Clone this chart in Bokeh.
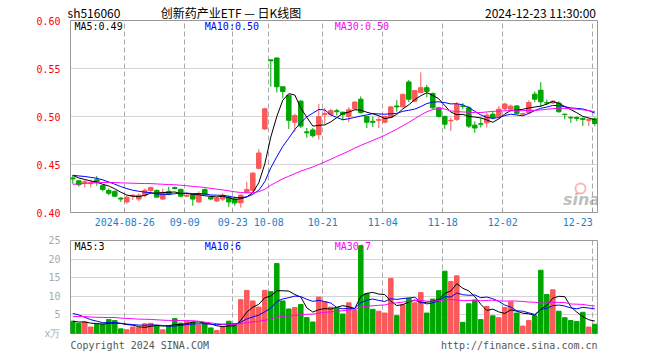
from bokeh.plotting import figure
from bokeh.models import (FixedTicker, Range1d, Label, ColumnDataSource, NumeralTickFormatter,
                          LinearAxis)
from bokeh.layouts import column
from bokeh.embed import file_html
from bokeh.resources import INLINE

# ---------------- data ----------------
# closes / volumes before the visible window (only used to warm up the moving averages)
hist_close = [0.418, 0.416, 0.417, 0.419, 0.420, 0.418, 0.421, 0.423, 0.422, 0.424,
              0.425, 0.427, 0.426, 0.428, 0.430, 0.429, 0.431, 0.433, 0.432, 0.434,
              0.436, 0.438, 0.440, 0.441, 0.440, 0.442, 0.440, 0.439, 0.437]
hist_vol = [3.5, 4.0, 5.2, 4.8, 3.6, 4.1, 3.9, 5.5, 4.4, 3.8,
            4.6, 3.7, 4.3, 5.0, 3.9, 4.2, 3.6, 4.4, 4.0, 3.5,
            6.8, 9.5, 8.2, 6.5, 6.5, 3.8, 3.0, 3.4, 3.0]

open_ = [0.436, 0.433, 0.431, 0.430, 0.434, 0.428, 0.423, 0.422, 0.415, 0.411,
         0.417, 0.414, 0.418, 0.423, 0.423, 0.414, 0.422, 0.426, 0.424, 0.417,
         0.418, 0.411, 0.424, 0.416, 0.412, 0.414, 0.416, 0.414, 0.410, 0.421,
         0.423, 0.446, 0.487, 0.559, 0.561, 0.531, 0.522, 0.494, 0.516, 0.484,
         0.486, 0.481, 0.502, 0.502, 0.506, 0.5045, 0.500, 0.508, 0.518, 0.500,
         0.495, 0.496, 0.494, 0.499, 0.511, 0.510, 0.536, 0.516, 0.525, 0.530,
         0.524, 0.509, 0.500, 0.4955, 0.497, 0.511, 0.509, 0.491, 0.4925, 0.4935,
         0.5024, 0.500, 0.508, 0.5076, 0.511, 0.5024, 0.5038, 0.5233, 0.5274, 0.5145,
         0.5142, 0.514, 0.5024, 0.499, 0.499, 0.498, 0.496, 0.4976]
high = [0.439, 0.434, 0.434, 0.434, 0.438, 0.429, 0.425, 0.423, 0.416, 0.418,
        0.419, 0.420, 0.425, 0.427, 0.424, 0.425, 0.427, 0.427, 0.425, 0.421,
        0.420, 0.422, 0.425, 0.417, 0.416, 0.420, 0.417, 0.417, 0.419, 0.432,
        0.442, 0.466, 0.509, 0.559, 0.561, 0.531, 0.523, 0.503, 0.517, 0.488,
        0.488, 0.513, 0.509, 0.508, 0.508, 0.505, 0.510, 0.516, 0.521, 0.500,
        0.500, 0.500, 0.501, 0.511, 0.517, 0.524, 0.538, 0.527, 0.546, 0.533,
        0.525, 0.510, 0.501, 0.499, 0.515, 0.514, 0.511, 0.495, 0.4985, 0.504,
        0.5055, 0.511, 0.5142, 0.5125, 0.512, 0.504, 0.517, 0.526, 0.5358, 0.5177,
        0.517, 0.516, 0.5028, 0.5003, 0.500, 0.499, 0.498, 0.499]
low = [0.430, 0.427, 0.426, 0.426, 0.428, 0.422, 0.418, 0.416, 0.411, 0.409,
       0.413, 0.412, 0.416, 0.420, 0.416, 0.413, 0.418, 0.424, 0.416, 0.416,
       0.407, 0.410, 0.418, 0.413, 0.411, 0.412, 0.406, 0.407, 0.405, 0.420,
       0.421, 0.445, 0.486, 0.531, 0.525, 0.519, 0.487, 0.484, 0.488, 0.478,
       0.478, 0.476, 0.492, 0.501, 0.501, 0.496, 0.494, 0.507, 0.503, 0.488,
       0.489, 0.488, 0.493, 0.498, 0.505, 0.510, 0.515, 0.515, 0.524, 0.520,
       0.508, 0.499, 0.487, 0.485, 0.4955, 0.5075, 0.488, 0.483, 0.4885, 0.4885,
       0.497, 0.498, 0.506, 0.505, 0.5024, 0.501, 0.5024, 0.515, 0.510, 0.5118,
       0.513, 0.5038, 0.497, 0.4934, 0.495, 0.490, 0.490, 0.490]
close = [0.435, 0.429, 0.432, 0.431, 0.431, 0.424, 0.420, 0.417, 0.414, 0.416,
         0.418, 0.418, 0.423, 0.426, 0.416, 0.421, 0.419, 0.425, 0.417, 0.418,
         0.414, 0.419, 0.419, 0.414, 0.415, 0.418, 0.411, 0.410, 0.418, 0.424,
         0.441, 0.462, 0.508, 0.558, 0.531, 0.526, 0.496, 0.501, 0.490, 0.483,
         0.480, 0.500, 0.503, 0.506, 0.505, 0.502, 0.507, 0.515, 0.504, 0.494,
         0.494, 0.497, 0.500, 0.510, 0.510, 0.523, 0.518, 0.527, 0.530, 0.526,
         0.509, 0.500, 0.492, 0.496, 0.5125, 0.5105, 0.490, 0.488, 0.492, 0.5014,
         0.4986, 0.5076, 0.513, 0.5108, 0.503, 0.503, 0.5146, 0.518, 0.5153, 0.514,
         0.516, 0.505, 0.502, 0.4985, 0.498, 0.497, 0.497, 0.4927]
volume = [3.3, 2.75, 3.1, 1.75, 2.5, 2.5, 3.75, 3.5, 1.25, 1.0,
          1.75, 1.6, 2.6, 2.75, 2.1, 1.0, 2.1, 4.0, 2.8, 3.3,
          3.1, 2.3, 2.7, 1.5, 0.8, 1.9, 3.3, 2.7, 9.1, 11.6,
          8.75, 7.1, 11.6, 11.25, 18.8, 8.75, 6.6, 7.0, 7.8, 4.3,
          3.1, 9.8, 8.5, 7.1, 6.8, 5.25, 8.25, 6.2, 23.6, 10.7,
          6.5, 6.0, 5.5, 14.8, 4.8, 7.7, 9.5, 8.25, 11.0, 5.5,
          9.25, 11.5, 16.75, 14.0, 15.5, 3.0, 8.0, 9.0, 3.75, 7.25,
          4.75, 4.25, 7.0, 8.5, 5.5, 2.0, 3.5, 4.75, 17.0, 10.5,
          11.75, 6.0, 4.25, 3.5, 3.25, 5.7, 1.75, 2.5]

tick_idx = [9, 19, 27, 33, 42, 52, 62, 72, 87]
tick_labels = ["2024-08-26", "09-09", "09-23", "10-08", "10-21", "11-04", "11-18", "12-02", "12-23"]
price_ticks = [0.40, 0.45, 0.50, 0.55, 0.60]
vol_ticks = [0, 5, 10, 15, 20, 25]
vol_unit = "x万"

header_texts = ["sh516060", "创新药产业ETF — 日K线图", "2024-12-23 11:30:00"]
price_ma_labels = ["MA5:0.49", "MA10:0.50", "MA30:0.50"]
vol_ma_labels = ["MA5:3", "MA10:6", "MA30:7"]
footer_left = "Copyright 2024 SINA.COM"
footer_right = "http://finance.sina.com.cn"

# ---------------- styling / geometry ----------------
RED, GREEN = "#fa5a5a", "#00a600"
MA_COLORS = ["#000000", "#0000ff", "#ff00ff"]
MONO = "DejaVu Sans Mono"
GRID = "#aaaaaa"
FRAME = "#999999"
NBSP = "\u00a0"

W = 652
PX0, PXU = 72.3, 6.0          # canvas x of first candle, px per day
FL, FR = 70, 597               # frame left / right (canvas px)
BL, BR = FL, W - FR
CH = 6.02                      # mono char width at 10px
HEADER_CX = [93.5, 230.5, 540.0]   # header text centres (canvas px)

def dx(px):
    return (px - PX0) / PXU

def py_price(py):   # price frame: top 20 (0.60), bottom 212 (0.40)
    return 0.40 + (212 - py) / 960.0

def py_vol(py):     # volume frame: top 240 (25), bottom 341 (0)
    return (341 - py) * 25.0 / 101.0

n = len(close)
xs = list(range(n))
cols = [RED if c >= o else GREEN for o, c in zip(open_, close)]


def moving_avg(series, k, offset):
    out = []
    for j in range(offset, len(series)):
        w = series[j - k + 1:j + 1]
        out.append(sum(w) / len(w))
    return out

all_close = hist_close + close
all_vol = hist_vol + volume
off = len(hist_close)

src = ColumnDataSource(dict(
    x=xs, top=[max(o, c) for o, c in zip(open_, close)],
    bottom=[min(o, c) for o, c in zip(open_, close)],
    high=high, low=low, color=cols, vol=volume,
    ma5=moving_avg(all_close, 5, off), ma10=moving_avg(all_close, 10, off),
    ma30=moving_avg(all_close, 30, off),
    vma5=moving_avg(all_vol, 5, off), vma10=moving_avg(all_vol, 10, off),
    vma30=moving_avg(all_vol, 30, off),
))

grid_x = [t - 1.0 / 3.0 for t in tick_idx]
x_range = Range1d(dx(FL), dx(FR))

# ---------------- price panel ----------------
p = figure(width=W, height=20 + 192 + 20, x_range=x_range, y_range=Range1d(0.40, 0.60),
           output_backend="svg", toolbar_location=None, title=None,
           min_border_left=BL, min_border_right=BR, min_border_top=20,
           min_border_bottom=20)
p.outline_line_color = FRAME

yax = p.left[0]
yax.ticker = FixedTicker(ticks=price_ticks)
yax.formatter = NumeralTickFormatter(format="0.00")
yax.major_label_text_color = "#ff0000"
yax.major_label_text_font = MONO
yax.major_label_text_font_size = "10px"
yax.major_tick_line_color = None
yax.minor_tick_line_color = None
yax.axis_line_color = None
yax.major_label_standoff = 4

xax = p.below[0]
xt = FixedTicker(ticks=grid_x)
xax.ticker = xt
p.xgrid.ticker = xt
overrides = {}
for i, (g, l) in enumerate(zip(grid_x, tick_labels)):
    # the last label sits left of its tick (right-aligned), padded with no-break spaces
    overrides[g] = l + NBSP * len(l) if i == len(tick_labels) - 1 else l
xax.major_label_overrides = overrides
xax.major_label_text_color = "#1a82c8"
xax.major_label_text_font = MONO
xax.major_label_text_font_size = "10px"
xax.major_tick_in = 3
xax.major_tick_out = 0
xax.major_tick_line_color = FRAME
xax.minor_tick_line_color = None
xax.axis_line_color = FRAME
xax.major_label_standoff = 4

p.xgrid.grid_line_color = GRID
p.xgrid.grid_line_dash = "5 3"
p.ygrid.grid_line_color = GRID
p.ygrid.grid_line_dash = "1 1"

# header row carried by a top axis
hdr_x = [dx(c) for c in HEADER_CX]
top_ax = LinearAxis(ticker=FixedTicker(ticks=hdr_x),
                    major_label_overrides={x: t for x, t in zip(hdr_x, header_texts)})
top_ax.major_label_text_font = "Noto Sans CJK SC"
top_ax.major_label_text_font_size = "12px"
top_ax.major_label_text_color = "#000000"
top_ax.major_tick_line_color = None
top_ax.minor_tick_line_color = None
top_ax.axis_line_color = None
top_ax.major_tick_out = 0
top_ax.major_tick_in = 0
top_ax.major_label_standoff = 0
p.add_layout(top_ax, "above")

p.segment(x0="x", y0="low", x1="x", y1="high", color="color", line_width=1, source=src)
p.vbar(x="x", width=0.75, top="top", bottom="bottom", fill_color="color",
       line_color="color", line_width=1, source=src)
for key, c in zip(["ma5", "ma10", "ma30"], MA_COLORS):
    p.line("x", key, line_color=c, line_width=1, source=src)

# sina watermark
p.add_layout(Label(x=dx(581), y=py_price(199), text="sina", text_align="center",
                   text_baseline="middle", text_font="DejaVu Sans", text_font_style="bold italic",
                   text_font_size="16px", text_color="#888888", text_alpha=0.55))
p.scatter(x=[dx(580)], y=[py_price(188)], size=10, marker="circle", fill_color=None,
          line_color="#ee3333", line_width=2, line_alpha=0.35)

for txt, px, c in zip(price_ma_labels, [74, 204.3, 334.3], MA_COLORS):
    p.add_layout(Label(x=dx(px), y=py_price(26), text=txt, text_font=MONO,
                       text_font_size="10px", text_color=c, text_baseline="middle"))

# ---------------- volume panel ----------------
p2 = figure(width=W, height=8 + 101 + 12, x_range=x_range, y_range=Range1d(0, 25),
            output_backend="svg", toolbar_location=None, title=None,
            min_border_left=BL, min_border_right=BR, min_border_top=8, min_border_bottom=12)
p2.outline_line_color = FRAME
p2.xgrid.ticker = FixedTicker(ticks=grid_x)
p2.xgrid.grid_line_color = GRID
p2.xgrid.grid_line_dash = "5 3"

# footer texts carried by the bottom axis
fl_c = dx(FL + len(footer_left) * CH / 2)
fr_c = dx(FR - len(footer_right) * CH / 2)
fax = p2.below[0]
fax.ticker = FixedTicker(ticks=[fl_c, fr_c])
fax.major_label_overrides = {fl_c: footer_left, fr_c: footer_right}
fax.major_label_text_color = "#555555"
fax.major_label_text_font = MONO
fax.major_label_text_font_size = "10px"
fax.major_tick_line_color = None
fax.minor_tick_line_color = None
fax.axis_line_color = None
fax.major_label_standoff = 0

vax = p2.left[0]
vax.ticker = FixedTicker(ticks=vol_ticks)
vax.major_label_overrides = {0: vol_unit}
vax.major_label_text_color = "#aaaaaa"
vax.major_label_text_font = MONO
vax.major_label_text_font_size = "10px"
vax.major_tick_line_color = None
vax.minor_tick_line_color = None
vax.axis_line_color = None
vax.major_label_standoff = 4
p2.ygrid.grid_line_color = GRID
p2.ygrid.grid_line_dash = "1 1"

p2.vbar(x="x", width=0.75, top="vol", bottom=0, fill_color="color", line_color="color",
        line_width=1, source=src)
for key, c in zip(["vma5", "vma10", "vma30"], MA_COLORS):
    p2.line("x", key, line_color=c, line_width=1, source=src)

for txt, px, c in zip(vol_ma_labels, [74, 204.3, 334.3], MA_COLORS):
    p2.add_layout(Label(x=dx(px), y=py_vol(246), text=txt, text_font=MONO,
                        text_font_size="10px", text_color=c, text_baseline="middle"))

layout = column(p, p2, spacing=0)
open("out.html", "w").write(file_html(layout, INLINE))
